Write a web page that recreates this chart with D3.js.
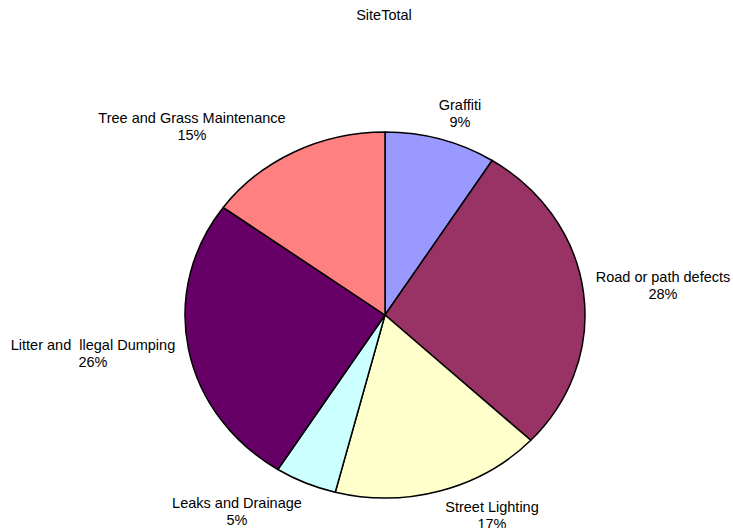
<!DOCTYPE html>
<html>
<head>
<meta charset="utf-8">
<script src="https://cdn.jsdelivr.net/npm/d3@7"></script>
<style>
  html, body { margin: 0; padding: 0; background: #fff; }
  svg text { font-family: "Liberation Sans", Arial, sans-serif; fill: #000; white-space: pre; }
</style>
</head>
<body>
<svg id="chart" width="733" height="528"></svg>
<script>
// ---- data ----
const title = "SiteTotal";
const categories = ["Graffiti", "Road or path defects", "Street Lighting", "Leaks and Drainage", "Litter and  llegal Dumping", "Tree and Grass Maintenance"];
const values = [9, 28, 17, 5, 26, 15];
const colors = ["#9999FF", "#993366", "#FFFFCC", "#CCFFFF", "#660066", "#FF8080"];

// ---- layout ----
const W = 733, H = 528;
const cx = 385, cy = 315, rx = 200, ry = 183;
// label anchor (center x, baseline of first line)
const labelAnchors = [[460, 110], [663, 282], [492, 512], [237, 508], [93, 350], [192, 123]];
const lineGap = 17;

const svg = d3.select("#chart");

svg.append("text")
  .attr("x", 384).attr("y", 20)
  .attr("text-anchor", "middle")
  .style("font-size", "14.5px")
  .text(title);

const pie = d3.pie().sort(null).value(d => d)(values);
const arc = d3.arc().innerRadius(0).outerRadius(rx);

const g = svg.append("g").attr("transform", `translate(${cx},${cy}) scale(1,${ry / rx})`);
g.selectAll("path").data(pie).join("path")
  .attr("d", arc)
  .attr("fill", (d, i) => colors[i])
  .attr("stroke", "#000")
  .attr("stroke-width", 1.5)
  .attr("stroke-linejoin", "round")
  .attr("vector-effect", "non-scaling-stroke");

const total = d3.sum(values);
const labels = svg.append("g");
pie.forEach((d, i) => {
  const [x, y] = labelAnchors[i];
  const t = labels.append("text")
    .attr("text-anchor", "middle")
    .style("font-size", "14.5px");
  t.append("tspan").attr("x", x).attr("y", y).text(categories[i]);
  t.append("tspan").attr("x", x).attr("y", y + lineGap).text(Math.round(values[i] / total * 100) + "%");
});
</script>
</body>
</html>
